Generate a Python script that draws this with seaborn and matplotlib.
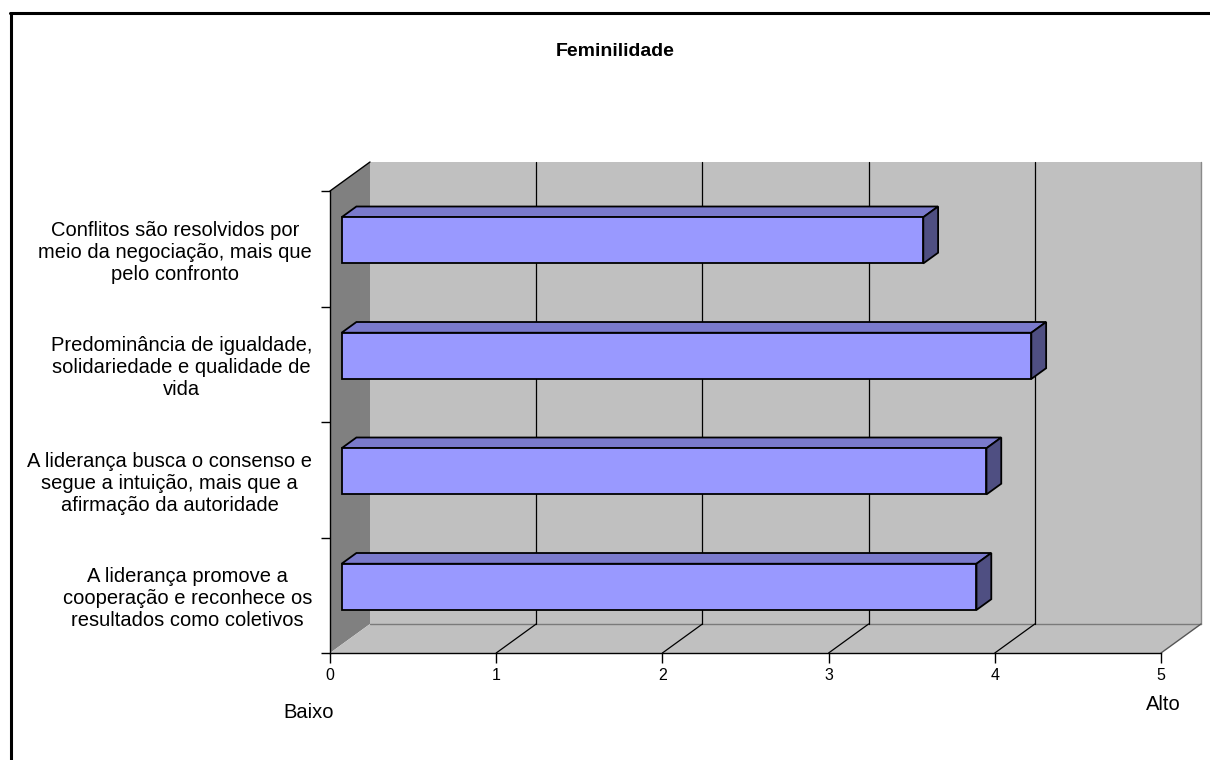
import numpy as np
import pandas as pd
import matplotlib
matplotlib.use("Agg")
import matplotlib.pyplot as plt
import seaborn as sns
from matplotlib.transforms import Affine2D, IdentityTransform
from matplotlib.patches import Polygon, Rectangle
from matplotlib.lines import Line2D

# ---- data -------------------------------------------------------------
categories = [
    "Conflitos são resolvidos por\nmeio da negociação, mais que\npelo confronto",
    "Predominância de igualdade,\nsolidariedade e qualidade de\nvida",
    "A liderança busca o consenso e\nsegue a intuição, mais que a\nafirmação da autoridade",
    "A liderança promove a\ncooperação e reconhece os\nresultados como coletivos",
]
scores = [3.50, 4.15, 3.88, 3.82]
x_ticks = [0, 1, 2, 3, 4, 5]
title = "Feminilidade"
low_label = "Baixo"
high_label = "Alto"

# ---- style --------------------------------------------------------------
W, H, DPI = 1210, 760, 100
sns.set_theme(style="white")
plt.rcParams["font.family"] = ["Liberation Sans", "DejaVu Sans"]
plt.rcParams.update({"text.color": "black", "axes.labelcolor": "black",
                     "xtick.color": "black", "ytick.color": "black"})

FRONT = "#9999FF"
TOP = "#7A7ACC"
SIDE = "#4F4F82"
WALL = "#C0C0C0"
SIDE_WALL = "#808080"

fig = plt.figure(figsize=(W / DPI, H / DPI), dpi=DPI)
fig.patch.set_facecolor("white")

# axes = front plane of the 3-D box (figure pixels)
x0, x1 = 330, 1161
ytop, ybot = 191, 653
ax = fig.add_axes([x0 / W, 1 - ybot / H, (x1 - x0) / W, (ybot - ytop) / H])
ax.set_facecolor("none")

DEPTH = np.array([40.0, 29.0])   # offset of the back plane in display px
BAR_FRONT, BAR_BACK = 0.29, 0.66  # depth slice occupied by the bars


def shift(frac):
    return Affine2D().translate(DEPTH[0] * frac, DEPTH[1] * frac)


df = pd.DataFrame({"item": categories, "score": scores})
sns.barplot(data=df, y="item", x="score", orient="h", color=FRONT,
            saturation=1, width=0.4, edgecolor="black", linewidth=1.3,
            ax=ax, zorder=5)

n = len(categories)
ax.set_xlim(x_ticks[0], x_ticks[-1])
ax.set_ylim(n - 0.5, -0.5)


def to_px(x, y, frac):
    p = ax.transData.transform((x, y))
    return p + DEPTH * frac


ymin, ymax = n - 0.5, -0.5  # bottom / top of category axis in data
xmin, xmax = x_ticks[0], x_ticks[-1]
idt = IdentityTransform()

# back wall
back = [to_px(xmin, ymin, 1), to_px(xmax, ymin, 1),
        to_px(xmax, ymax, 1), to_px(xmin, ymax, 1)]
ax.add_patch(Polygon(back, closed=True, transform=idt, facecolor=WALL,
                     edgecolor="none", zorder=0, clip_on=False))
# side wall
side = [to_px(xmin, ymin, 0), to_px(xmin, ymin, 1),
        to_px(xmin, ymax, 1), to_px(xmin, ymax, 0)]
ax.add_patch(Polygon(side, closed=True, transform=idt, facecolor=SIDE_WALL,
                     edgecolor="none", zorder=0, clip_on=False))
# floor
floor = [to_px(xmin, ymin, 0), to_px(xmax, ymin, 0),
         to_px(xmax, ymin, 1), to_px(xmin, ymin, 1)]
ax.add_patch(Polygon(floor, closed=True, transform=idt, facecolor=WALL,
                     edgecolor="none", zorder=0, clip_on=False))


def seg(p, q, color, lw=1.0, z=1):
    ax.add_line(Line2D([p[0], q[0]], [p[1], q[1]], transform=idt,
                       color=color, lw=lw, zorder=z, clip_on=False))


# wall edges
seg(to_px(xmin, ymin, 1), to_px(xmax, ymin, 1), "#7a7a7a")
seg(to_px(xmax, ymin, 1), to_px(xmax, ymax, 1), "#8a8a8a")
seg(to_px(xmax, ymin, 0), to_px(xmax, ymin, 1), "#555555")
seg(to_px(xmin, ymax, 0), to_px(xmin, ymax, 1), "black")

# gridlines on back wall and floor
for v in x_ticks[1:-1]:
    seg(to_px(v, ymin, 1), to_px(v, ymax, 1), "black", 0.9)
    seg(to_px(v, ymin, 0), to_px(v, ymin, 1), "black", 0.9)

# bars: move front faces into depth, then add top and end faces
for patch in list(ax.patches):
    if not isinstance(patch, Rectangle):
        continue
    if patch.get_facecolor()[:3] == matplotlib.colors.to_rgb(FRONT):
        bx, by = patch.get_x(), patch.get_y()
        bw, bh = patch.get_width(), patch.get_height()
        patch.set_transform(ax.transData + shift(BAR_FRONT))
        patch.set_clip_on(False)
        ya, yb = by, by + bh
        # upper edge in display
        y_up = ya if ax.transData.transform((0, ya))[1] > ax.transData.transform((0, yb))[1] else yb
        y_dn = yb if y_up == ya else ya
        top = [to_px(bx, y_up, BAR_FRONT), to_px(bx + bw, y_up, BAR_FRONT),
               to_px(bx + bw, y_up, BAR_BACK), to_px(bx, y_up, BAR_BACK)]
        end = [to_px(bx + bw, y_dn, BAR_FRONT), to_px(bx + bw, y_dn, BAR_BACK),
               to_px(bx + bw, y_up, BAR_BACK), to_px(bx + bw, y_up, BAR_FRONT)]
        ax.add_patch(Polygon(top, closed=True, transform=idt, facecolor=TOP,
                             edgecolor="black", lw=1.3, zorder=4,
                             clip_on=False, joinstyle="miter"))
        ax.add_patch(Polygon(end, closed=True, transform=idt, facecolor=SIDE,
                             edgecolor="black", lw=1.3, zorder=4,
                             clip_on=False, joinstyle="miter"))

# axes, ticks, labels
for s in ("top", "right"):
    ax.spines[s].set_visible(False)
for s in ("left", "bottom"):
    ax.spines[s].set_color("black")
    ax.spines[s].set_linewidth(1.0)
    ax.spines[s].set_zorder(6)

ax.set_xticks(x_ticks)
ax.set_xticklabels([str(t) for t in x_ticks], fontsize=11.5, color="black")
ax.tick_params(axis="x", which="major", direction="out", length=7,
               width=1, color="black", pad=4, bottom=True)
ax.set_yticks(range(n))
ax.set_yticklabels(categories, fontsize=14.5, color="black")
for lbl in ax.get_yticklabels():
    lbl.set_multialignment("center")
ax.set_yticks(np.arange(-0.5, n, 1.0), minor=True)
ax.tick_params(axis="y", which="major", length=0, pad=13)
ax.tick_params(axis="y", which="minor", direction="out", length=6.5,
               width=1, color="black", left=True)
ax.set_xlabel("")
ax.set_ylabel("")
ax.grid(False)

fig.text(615 / W, 1 - 52 / H, title, ha="center", va="center",
         fontsize=14, fontweight="bold", color="black")
fig.text(309 / W, 1 - 718 / H, low_label, ha="center", va="baseline",
         fontsize=14.5, color="black")
fig.text(1163 / W, 1 - 710 / H, high_label, ha="center", va="baseline",
         fontsize=14.5, color="black")

# chart frame
fig.add_artist(Line2D([10.5, 10.5], [0, H - 12.5], transform=IdentityTransform(),
                      color="black", lw=2.2))
fig.add_artist(Line2D([9.5, W], [H - 12.5, H - 12.5], transform=IdentityTransform(),
                      color="black", lw=2.2))

fig.savefig("out.png", dpi=DPI)
